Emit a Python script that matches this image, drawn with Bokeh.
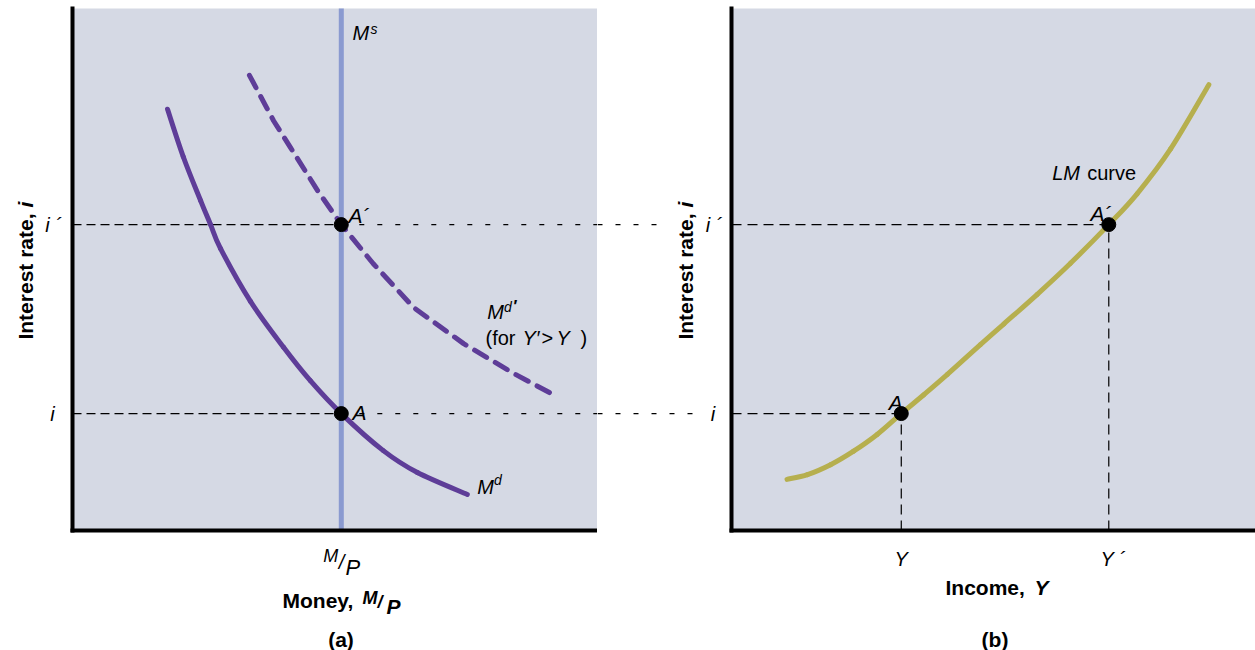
from math import pi

from bokeh.embed import file_html
from bokeh.layouts import row
from bokeh.models import BoxAnnotation, FixedTicker, Label, LinearAxis, Range1d
from bokeh.plotting import figure
from bokeh.resources import INLINE

# ---------------------------------------------------------------------------
# Values, in abstract units (0..10 on every axis)
# ---------------------------------------------------------------------------
I_LOW = 2.24        # interest rate i
I_HIGH = 5.86       # interest rate i'
REAL_MONEY = 5.12   # real money supply M/P
Y_LOW = 3.24        # income Y
Y_HIGH = 7.2        # income Y'

# money demand M^d at income Y
MD_X = [1.81, 2.11, 2.44, 2.63, 2.82, 3.39, 4.02, 4.53, 5.12, 5.92, 6.57, 7.52]
MD_Y = [8.07, 7.16, 6.32, 5.86, 5.40, 4.39, 3.51, 2.87, 2.24, 1.53, 1.11, 0.69]

# money demand M^d' at the higher income Y'
MD2_X = [3.37, 3.83, 4.15, 4.67, 5.12, 5.73, 6.50, 7.45, 8.40, 9.22]
MD2_Y = [8.72, 7.85, 7.34, 6.51, 5.86, 5.11, 4.27, 3.58, 3.01, 2.57]

# LM curve
LM_X = [1.06, 1.45, 1.89, 2.33, 2.78, 3.24, 3.67, 4.12, 4.75, 5.20, 5.83, 6.47,
        7.20, 7.74, 8.38, 9.11]
LM_Y = [0.98, 1.07, 1.26, 1.52, 1.84, 2.24, 2.60, 2.99, 3.56, 3.96, 4.52, 5.12,
        5.86, 6.45, 7.31, 8.54]

# ---------------------------------------------------------------------------
# Styling and page geometry
# ---------------------------------------------------------------------------
BG = "#D5D9E4"
PURPLE = "#5E3D98"
MS_BLUE = "#8A9AD0"
OLIVE = "#B6AF4E"
INK = "#000000"
FONT = "Liberation Sans"

LONG_DASH = "9 5"
SHORT_DASH = "5 13"
CURVE_DASH = "14 10"

HEIGHT = 650
TOP_PAD, BOTTOM_PAD = 8, 120          # white space above / below the plot area
PX_PER_Y = (HEIGHT - TOP_PAD - BOTTOM_PAD) / 10


def label(p, text, x, y, size=20, style="italic", align="left",
          baseline="alphabetic", angle=0.0):
    p.add_layout(Label(x=x, y=y, text=text, text_font=FONT,
                       text_font_size=f"{size}px", text_font_style=style,
                       text_align=align, text_baseline=baseline, angle=angle,
                       text_color=INK))


def panel(width, left_pad):
    """A figure whose plot area (0..10 x 0..10) sits left_pad px from its left edge."""
    scale_x = (width - left_pad) / 10
    p = figure(width=width, height=HEIGHT, title=None,
               x_range=Range1d(-left_pad / scale_x, 10),
               y_range=Range1d(-BOTTOM_PAD / PX_PER_Y, 10 + TOP_PAD / PX_PER_Y),
               x_axis_type=None, y_axis_type=None,
               output_backend="svg", toolbar_location=None, min_border=0)
    p.background_fill_color = "white"
    p.border_fill_color = "white"
    p.outline_line_color = None
    p.grid.visible = False
    p.add_layout(BoxAnnotation(left=0, right=10, bottom=0, top=10,
                               fill_color=BG, fill_alpha=1, line_color=None,
                               level="underlay"))
    for side in ("below", "left"):
        ax = LinearAxis(fixed_location=0, bounds=(0, 10),
                        ticker=FixedTicker(ticks=[]),
                        major_tick_in=0, major_tick_out=0,
                        minor_tick_in=0, minor_tick_out=0,
                        major_label_text_font_size="0px",
                        axis_line_width=4, axis_line_color=INK,
                        axis_line_cap="square")
        p.add_layout(ax, side)
    return p


def smooth_curve(p, xs, ys, **style):
    """Draw a smooth curve through the points as Catmull-Rom Bezier pieces."""
    n = len(xs)
    seg = dict(x0=[], y0=[], x1=[], y1=[], cx0=[], cy0=[], cx1=[], cy1=[])
    for i in range(n - 1):
        a = max(i - 1, 0)
        b = min(i + 2, n - 1)
        seg["x0"].append(xs[i]); seg["y0"].append(ys[i])
        seg["x1"].append(xs[i + 1]); seg["y1"].append(ys[i + 1])
        seg["cx0"].append(xs[i] + (xs[i + 1] - xs[a]) / 6)
        seg["cy0"].append(ys[i] + (ys[i + 1] - ys[a]) / 6)
        seg["cx1"].append(xs[i + 1] - (xs[b] - xs[i]) / 6)
        seg["cy1"].append(ys[i + 1] - (ys[b] - ys[i]) / 6)
    p.bezier(line_cap="round", **seg, **style)


def y_title(p, x):
    label(p, "Interest rate,", x, 6.073, size=21, style="bold",
          align="right", angle=pi / 2)
    label(p, "i", x, 6.188, size=21, style="bold italic",
          align="left", angle=pi / 2)


# ---------------------------------------------------------------------------
# (a) money market
# ---------------------------------------------------------------------------
pa = panel(597, 72)

for level in (I_HIGH, I_LOW):
    pa.line([0, REAL_MONEY], [level, level], line_color=INK, line_width=1.2,
            line_dash=LONG_DASH)
    pa.line([REAL_MONEY, 10], [level, level], line_color=INK, line_width=1.2,
            line_dash=SHORT_DASH)

pa.line([REAL_MONEY, REAL_MONEY], [0, 10], line_color=MS_BLUE, line_width=5)
smooth_curve(pa, MD_X, MD_Y, line_color=PURPLE, line_width=5)
pa.line(MD2_X, MD2_Y, line_color=PURPLE, line_width=5, line_cap="round",
        line_join="round", line_dash=CURVE_DASH)
pa.scatter([REAL_MONEY, REAL_MONEY], [I_LOW, I_HIGH], size=14, color=INK)

# tick labels
label(pa, "i \u00b4", -0.36, I_HIGH, align="center", baseline="middle")
label(pa, "i", -0.38, I_LOW, align="center", baseline="middle")
label(pa, "M", 5.06, -0.48, size=18, align="right")
label(pa, "/", 5.124, -0.61, size=20, align="center")
label(pa, "P", 5.2, -0.71, size=22)

# axis titles
label(pa, "Money,", 4.0, -1.341, size=21, style="bold")
label(pa, "M", 5.524, -1.284, size=18, style="bold italic")
label(pa, "/", 5.81, -1.379, size=18, style="bold italic")
label(pa, "P", 5.981, -1.456, size=21, style="bold italic")
label(pa, "(a)", 5.114, -2.088, size=21, style="bold", align="center")
y_title(pa, -0.886)

# curve and point labels
label(pa, "M", 5.333, 9.54)
label(pa, "s", 5.676, 9.60, size=14)
label(pa, "A\u00b4", 5.257, 6.034, size=21)
label(pa, "A", 5.333, 2.266, size=21)
label(pa, "M", 7.899, 4.182)
label(pa, "d", 8.219, 4.29, size=14)
label(pa, "\u2032", 8.40, 4.29, size=16, style="bold")
label(pa, "(for", 7.867, 3.688, style="normal")
label(pa, "Y\u2032", 8.571, 3.688)
label(pa, ">", 8.933, 3.688, style="normal")
label(pa, "Y", 9.219, 3.688)
label(pa, ")", 9.676, 3.688, style="normal")
label(pa, "M", 7.709, 0.83)
label(pa, "d", 8.03, 0.958, size=14)

# ---------------------------------------------------------------------------
# (b) LM curve
# ---------------------------------------------------------------------------
pb = panel(658, 134)
edge = pb.x_range.start

# dashed guides carried over from panel (a)
pb.line([edge, -1.36], [I_HIGH, I_HIGH], line_color=INK, line_width=1.2,
        line_dash=SHORT_DASH)
pb.line([edge, -0.69], [I_LOW, I_LOW], line_color=INK, line_width=1.2,
        line_dash=SHORT_DASH)

for xv, yv in ((Y_LOW, I_LOW), (Y_HIGH, I_HIGH)):
    pb.line([0, xv], [yv, yv], line_color=INK, line_width=1.2, line_dash="10 6")
    pb.line([xv, xv], [0, yv], line_color=INK, line_width=1.2, line_dash="10 6")

smooth_curve(pb, LM_X, LM_Y, line_color=OLIVE, line_width=5)
pb.scatter([Y_LOW, Y_HIGH], [I_LOW, I_HIGH], size=14, color=INK)

label(pb, "i \u00b4", -0.334, I_HIGH, align="center", baseline="middle")
label(pb, "i", -0.353, I_LOW, align="center", baseline="middle")
label(pb, "Y", Y_LOW, -0.543, align="center")
label(pb, "Y \u00b4", 7.042, -0.543)

label(pb, "Income,", 4.084, -1.086, size=21, style="bold")
label(pb, "Y", 5.782, -1.086, size=21, style="bold italic")
label(pb, "(b)", 5.029, -2.088, size=21, style="bold", align="center")
y_title(pb, -0.878)

label(pb, "A", 3.0, 2.45, size=21)
label(pb, "A\u00b4", 6.851, 6.067, size=21)
label(pb, "LM", 6.12, 6.845)
label(pb, "curve", 6.788, 6.845, style="normal")

layout = row(pa, pb)
open("out.html", "w").write(file_html(layout, INLINE))
